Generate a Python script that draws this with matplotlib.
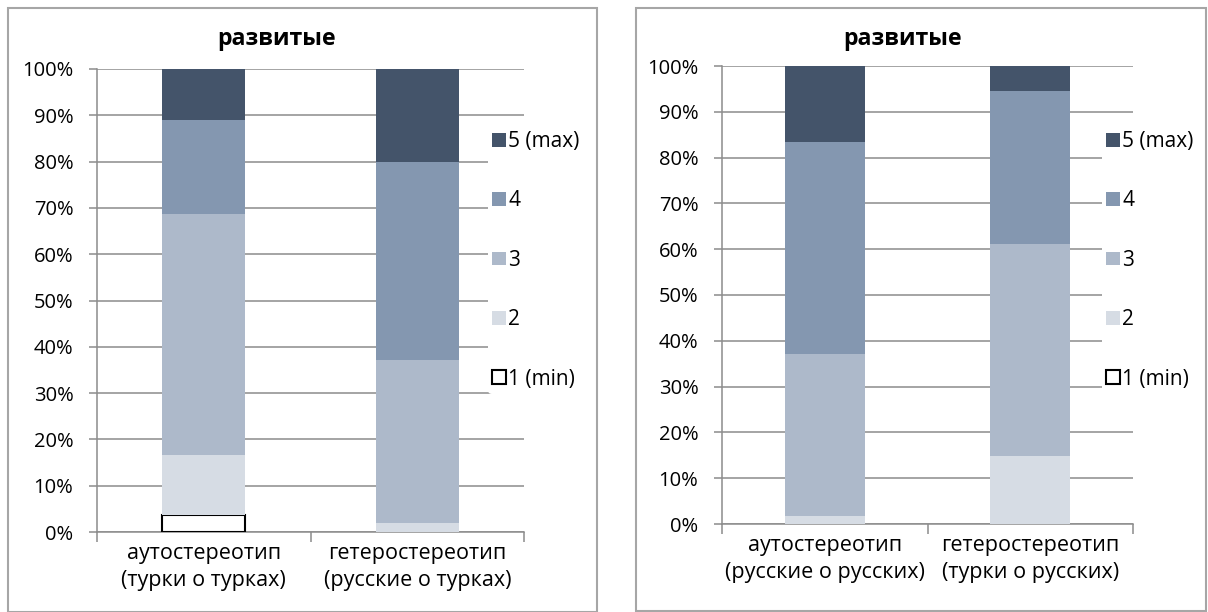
import matplotlib.pyplot as plt
from matplotlib.patches import Rectangle
from matplotlib.ticker import FuncFormatter, FixedLocator

plt.rcParams["font.family"] = ["Open Sans", "DejaVu Sans"]

levels = ["1 (min)", "2", "3", "4", "5 (max)"]
colors = ["#ffffff", "#d6dce4", "#adb9ca", "#8497b0", "#44546a"]

left_title = "развитые"
left_cats = ["аутостереотип\n(турки о турках)", "гетеростереотип\n(русские о турках)"]
left_1 = [3.7, 0.0]
left_2 = [12.9, 1.9]
left_3 = [52.1, 35.2]
left_4 = [20.3, 42.8]
left_5 = [11.0, 20.1]

right_title = "развитые"
right_cats = ["аутостереотип\n(русские о русских)", "гетеростереотип\n(турки о русских)"]
right_1 = [0.0, 0.0]
right_2 = [1.8, 14.8]
right_3 = [35.3, 46.3]
right_4 = [46.3, 33.4]
right_5 = [16.6, 5.5]

GRID = "#8c8c8c"


def draw_panel(fig, rect, cats, series, title, title_x, legend_xy):
    ax = fig.add_axes(rect)
    ax.set_facecolor("none")
    x = list(range(len(cats)))
    bottom = [0.0] * len(cats)
    handles = []
    for vals, col, lab in zip(series, colors, levels):
        edge = "black" if col == "#ffffff" else "none"
        lw = 1.5 if col == "#ffffff" else 0
        shown = [v if v > 0 else float("nan") for v in vals]
        bars = ax.bar(x, shown, width=0.39, bottom=bottom, color=col,
                      edgecolor=edge, linewidth=lw, zorder=3, label=lab)
        handles.append(bars)
        bottom = [b + v for b, v in zip(bottom, vals)]

    ax.set_xlim(-0.5, len(cats) - 0.5)
    ax.set_ylim(0, 100)
    ax.set_yticks(range(0, 101, 10))
    ax.yaxis.set_major_formatter(FuncFormatter(lambda v, p: f"{v:.0f}%"))
    ax.yaxis.grid(True, color=GRID, linewidth=1.1, zorder=0)
    ax.set_axisbelow(True)
    ax.set_xticks(x)
    ax.set_xticklabels(cats, fontsize=15.5, linespacing=1.38)
    ax.xaxis.set_minor_locator(FixedLocator([i - 0.5 for i in range(len(cats) + 1)]))
    ax.tick_params(axis="x", which="major", length=0, pad=8)
    ax.tick_params(axis="x", which="minor", length=7, color=GRID, width=1.1)
    ax.tick_params(axis="y", length=6, color=GRID, width=1.1, labelsize=14.5, pad=11)
    for s in ["top", "right"]:
        ax.spines[s].set_visible(False)
    for s in ["left", "bottom"]:
        ax.spines[s].set_color(GRID)
        ax.spines[s].set_linewidth(1.1)

    leg = fig.legend(handles[::-1], levels[::-1], loc="upper left",
                     bbox_to_anchor=legend_xy, frameon=True, fontsize=15,
                     handlelength=0.65, handleheight=0.65, handletextpad=0.12,
                     labelspacing=1.84, borderpad=0.2, borderaxespad=0)
    leg.get_frame().set_edgecolor("none")
    leg.get_frame().set_facecolor("white")
    leg.get_frame().set_alpha(1)
    fig.text(title_x, 1 - 39 / 612, title, ha="center", va="center",
             fontsize=16.7, fontweight="bold")
    return ax


fig = plt.figure(figsize=(12.08, 6.12), dpi=100)
W, H = 1208, 612

fig.patches.append(Rectangle((8 / W, 0), (597 - 8) / W, 1 - 8 / H,
                             transform=fig.transFigure, fill=False,
                             edgecolor="#a6a6a6", linewidth=1.5))
fig.patches.append(Rectangle((636 / W, 1 - 611 / H), (1206 - 636) / W, (611 - 8) / H,
                             transform=fig.transFigure, fill=False,
                             edgecolor="#a6a6a6", linewidth=1.5))

draw_panel(fig, [97 / W, 1 - 532 / H, 427 / W, (532 - 69) / H],
           left_cats, [left_1, left_2, left_3, left_4, left_5],
           left_title, 277 / W, (488 / W, 1 - 127 / H))
draw_panel(fig, [722 / W, 1 - 524 / H, 411 / W, (524 - 66) / H],
           right_cats, [right_1, right_2, right_3, right_4, right_5],
           right_title, 903 / W, (1102 / W, 1 - 127 / H))

fig.savefig("out.png", dpi=100)
